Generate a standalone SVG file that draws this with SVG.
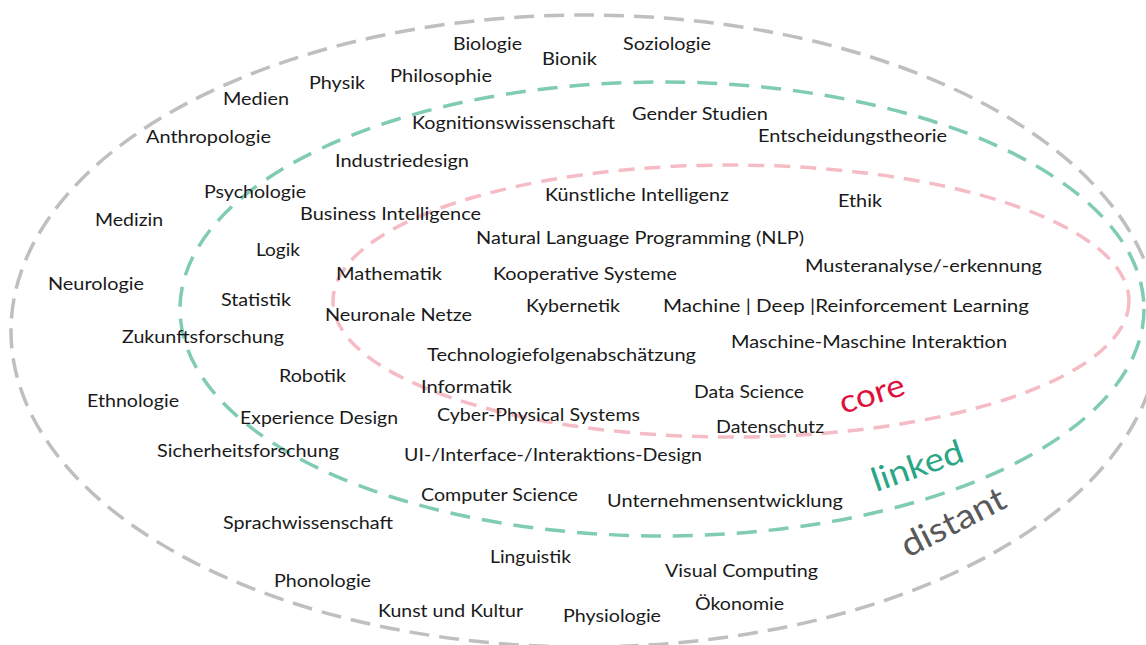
<svg xmlns="http://www.w3.org/2000/svg" width="1146" height="645" viewBox="0 0 1146 645">
<style>
.t{font-family:Lato,"Open Sans","Liberation Sans",sans-serif;font-size:18px;fill:#1a1a1a;}
.ring{fill:none;stroke-width:3.5;}
.big{font-family:Lato,"Open Sans","Liberation Sans",sans-serif;}
</style>
<rect width="1146" height="645" fill="#ffffff"/>
<g id="rings">
<ellipse id="distant-ring" class="ring" cx="585" cy="331" rx="574" ry="316" stroke="#bfbfbf" stroke-dasharray="20 10"/>
<ellipse id="linked-ring" class="ring" cx="662" cy="309" rx="482" ry="227" stroke="#80cbb4" stroke-dasharray="20 12"/>
<ellipse id="core-ring" class="ring" cx="731" cy="301" rx="398" ry="136" stroke="#f5bcc5" stroke-width="3" stroke-dasharray="16 10"/>
</g>
<g id="ring-labels">
<text id="lbl-core" class="big" transform="translate(843,414) rotate(-17)" font-size="32" fill="#e0103c" textLength="67" lengthAdjust="spacingAndGlyphs">core</text>
<text id="lbl-linked" class="big" transform="translate(876,492) rotate(-19)" font-size="33" fill="#2aa585" textLength="95" lengthAdjust="spacingAndGlyphs">linked</text>
<text id="lbl-distant" class="big" transform="translate(908,558) rotate(-27)" font-size="34" fill="#595959" textLength="113" lengthAdjust="spacingAndGlyphs">distant</text>
</g>
<g id="n-biologie"><text class="t" x="453" y="50" textLength="69" lengthAdjust="spacingAndGlyphs">Biologie</text></g>
<g id="n-bionik"><text class="t" x="542" y="65" textLength="55" lengthAdjust="spacingAndGlyphs">Bionik</text></g>
<g id="n-soziologie"><text class="t" x="623" y="50" textLength="88" lengthAdjust="spacingAndGlyphs">Soziologie</text></g>
<g id="n-physik"><text class="t" x="309" y="89" textLength="56" lengthAdjust="spacingAndGlyphs">Physik</text></g>
<g id="n-philosophie"><text class="t" x="390" y="82" textLength="102" lengthAdjust="spacingAndGlyphs">Philosophie</text></g>
<g id="n-medien"><text class="t" x="223" y="105" textLength="66" lengthAdjust="spacingAndGlyphs">Medien</text></g>
<g id="n-anthropologie"><text class="t" x="146" y="143" textLength="125" lengthAdjust="spacingAndGlyphs">Anthropologie</text></g>
<g id="n-kognitionswissenschaft"><text class="t" x="412" y="129" textLength="203" lengthAdjust="spacingAndGlyphs">Kognitionswissenschaft</text></g>
<g id="n-gender"><text class="t" x="632" y="120" textLength="136" lengthAdjust="spacingAndGlyphs">Gender Studien</text></g>
<g id="n-entscheidungstheorie"><text class="t" x="758" y="142" textLength="189" lengthAdjust="spacingAndGlyphs">Entscheidungstheorie</text></g>
<g id="n-industriedesign"><text class="t" x="335" y="167" textLength="134" lengthAdjust="spacingAndGlyphs">Industriedesign</text></g>
<g id="n-psychologie"><text class="t" x="204" y="198" textLength="102" lengthAdjust="spacingAndGlyphs">Psychologie</text></g>
<g id="n-medizin"><text class="t" x="95" y="226" textLength="68" lengthAdjust="spacingAndGlyphs">Medizin</text></g>
<g id="n-business"><text class="t" x="300" y="220" textLength="181" lengthAdjust="spacingAndGlyphs">Business Intelligence</text></g>
<g id="n-ki"><text class="t" x="545" y="201" textLength="184" lengthAdjust="spacingAndGlyphs">Künstliche Intelligenz</text></g>
<g id="n-ethik"><text class="t" x="838" y="207" textLength="44" lengthAdjust="spacingAndGlyphs">Ethik</text></g>
<g id="n-nlp"><text class="t" x="476" y="244" textLength="328" lengthAdjust="spacingAndGlyphs">Natural Language Programming (NLP)</text></g>
<g id="n-logik"><text class="t" x="256" y="256" textLength="44" lengthAdjust="spacingAndGlyphs">Logik</text></g>
<g id="n-neurologie"><text class="t" x="48" y="290" textLength="96" lengthAdjust="spacingAndGlyphs">Neurologie</text></g>
<g id="n-mathematik"><text class="t" x="336" y="280" textLength="106" lengthAdjust="spacingAndGlyphs">Mathematik</text></g>
<g id="n-kooperative"><text class="t" x="493" y="280" textLength="184" lengthAdjust="spacingAndGlyphs">Kooperative Systeme</text></g>
<g id="n-muster"><text class="t" x="805" y="272" textLength="237" lengthAdjust="spacingAndGlyphs">Musteranalyse/-erkennung</text></g>
<g id="n-statistik"><text class="t" x="221" y="306" textLength="70" lengthAdjust="spacingAndGlyphs">Statistik</text></g>
<g id="n-neuronale"><text class="t" x="325" y="321" textLength="147" lengthAdjust="spacingAndGlyphs">Neuronale Netze</text></g>
<g id="n-kybernetik"><text class="t" x="526" y="312" textLength="94" lengthAdjust="spacingAndGlyphs">Kybernetik</text></g>
<g id="n-ml"><text class="t" x="663" y="312" textLength="366" lengthAdjust="spacingAndGlyphs">Machine | Deep |Reinforcement Learning</text></g>
<g id="n-zukunft"><text class="t" x="122" y="343" textLength="162" lengthAdjust="spacingAndGlyphs">Zukunftsforschung</text></g>
<g id="n-m2m"><text class="t" x="731" y="348" textLength="276" lengthAdjust="spacingAndGlyphs">Maschine-Maschine Interaktion</text></g>
<g id="n-tfa"><text class="t" x="427" y="361" textLength="269" lengthAdjust="spacingAndGlyphs">Technologiefolgenabschätzung</text></g>
<g id="n-robotik"><text class="t" x="279" y="382" textLength="67" lengthAdjust="spacingAndGlyphs">Robotik</text></g>
<g id="n-informatik"><text class="t" x="421" y="393" textLength="91" lengthAdjust="spacingAndGlyphs">Informatik</text></g>
<g id="n-ethnologie"><text class="t" x="87" y="407" textLength="92" lengthAdjust="spacingAndGlyphs">Ethnologie</text></g>
<g id="n-datascience"><text class="t" x="694" y="398" textLength="110" lengthAdjust="spacingAndGlyphs">Data Science</text></g>
<g id="n-experience"><text class="t" x="240" y="424" textLength="158" lengthAdjust="spacingAndGlyphs">Experience Design</text></g>
<g id="n-cps"><text class="t" x="437" y="421" textLength="203" lengthAdjust="spacingAndGlyphs">Cyber-Physical Systems</text></g>
<g id="n-datenschutz"><text class="t" x="716" y="433" textLength="108" lengthAdjust="spacingAndGlyphs">Datenschutz</text></g>
<g id="n-sicherheit"><text class="t" x="157" y="457" textLength="182" lengthAdjust="spacingAndGlyphs">Sicherheitsforschung</text></g>
<g id="n-ui"><text class="t" x="404" y="461" textLength="298" lengthAdjust="spacingAndGlyphs">UI-/Interface-/Interaktions-Design</text></g>
<g id="n-cs"><text class="t" x="421" y="501" textLength="157" lengthAdjust="spacingAndGlyphs">Computer Science</text></g>
<g id="n-unternehmen"><text class="t" x="607" y="507" textLength="236" lengthAdjust="spacingAndGlyphs">Unternehmensentwicklung</text></g>
<g id="n-sprachwiss"><text class="t" x="223" y="529" textLength="170" lengthAdjust="spacingAndGlyphs">Sprachwissenschaft</text></g>
<g id="n-linguistik"><text class="t" x="490" y="563" textLength="81" lengthAdjust="spacingAndGlyphs">Linguistik</text></g>
<g id="n-visual"><text class="t" x="665" y="577" textLength="153" lengthAdjust="spacingAndGlyphs">Visual Computing</text></g>
<g id="n-phonologie"><text class="t" x="274" y="587" textLength="97" lengthAdjust="spacingAndGlyphs">Phonologie</text></g>
<g id="n-oekonomie"><text class="t" x="695" y="610" textLength="89" lengthAdjust="spacingAndGlyphs">Ökonomie</text></g>
<g id="n-kunst"><text class="t" x="378" y="617" textLength="145" lengthAdjust="spacingAndGlyphs">Kunst und Kultur</text></g>
<g id="n-physiologie"><text class="t" x="563" y="622" textLength="98" lengthAdjust="spacingAndGlyphs">Physiologie</text></g>
</svg>
